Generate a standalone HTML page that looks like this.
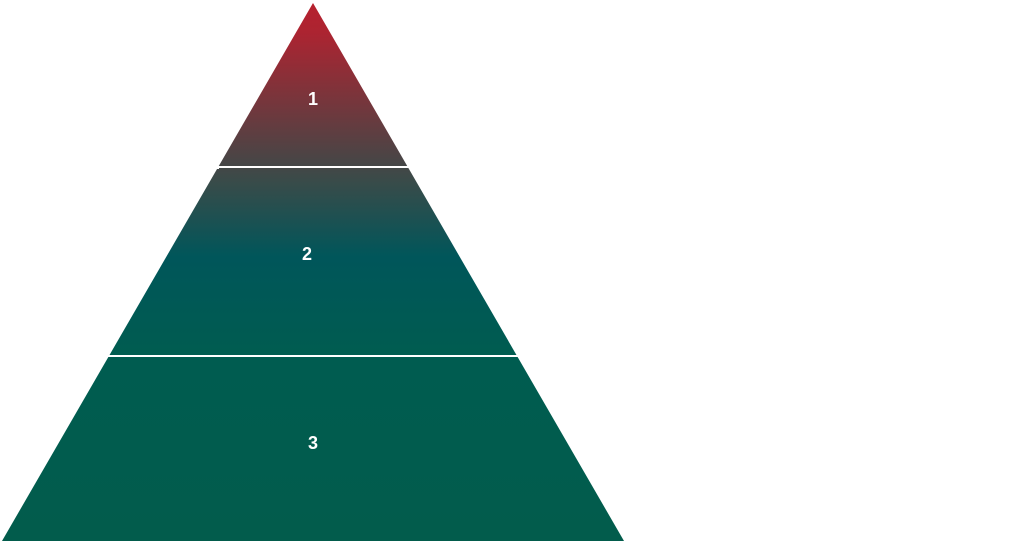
<!DOCTYPE html>
<html><head><meta charset="utf-8"><style>
html,body{margin:0;padding:0;background:#fff;width:1024px;height:546px;overflow:hidden}
</style></head><body>
<svg width="1024" height="546" viewBox="0 0 1024 546">
<defs>
<linearGradient id="g" x1="0" y1="0" x2="0" y2="546" gradientUnits="userSpaceOnUse">
<stop offset="0" stop-color="#b8202e"/>
<stop offset="0.06" stop-color="#ac2431"/>
<stop offset="0.30" stop-color="#464646"/>
<stop offset="0.33" stop-color="#3a4b49"/>
<stop offset="0.47" stop-color="#00565a"/>
<stop offset="0.65" stop-color="#005c50"/>
<stop offset="1" stop-color="#025c4c"/>
</linearGradient>
</defs>
<polygon points="313,3 624,541 2,541" fill="url(#g)"/>
<line x1="0" y1="167" x2="640" y2="167" stroke="#fff" stroke-width="2"/>
<line x1="0" y1="356" x2="640" y2="356" stroke="#fff" stroke-width="2"/>
<rect x="0" y="166" width="219" height="3" fill="#fff"/>
<g font-family="Liberation Sans, sans-serif" font-weight="bold" font-size="18" fill="#fff" text-anchor="middle">
<text x="313" y="105">1</text>
<text x="307" y="260">2</text>
<text x="313" y="449">3</text>
</g>
</svg>
</body></html>
